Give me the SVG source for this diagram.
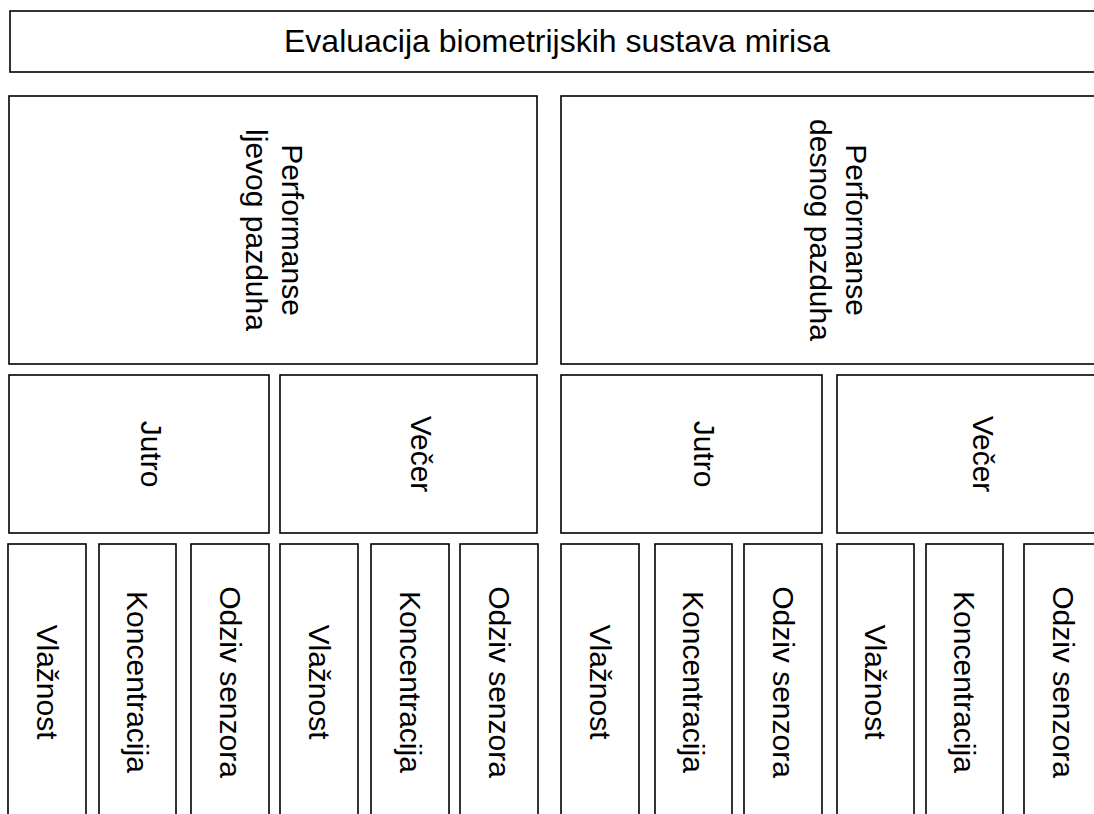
<svg xmlns="http://www.w3.org/2000/svg" width="1094" height="814" viewBox="0 0 1094 814">
<style>
rect{fill:#fff;stroke:#000;stroke-width:1.6}
text{font-family:"Liberation Sans",Arial,sans-serif;font-size:30px;fill:#000;text-anchor:middle}
.t{font-size:32px}
</style>
<rect x="0" y="0" width="1094" height="814" style="stroke:none"/>
<g id="title"><rect x="10" y="11" width="1094" height="61"/><text class="t" x="557" y="52">Evaluacija biometrijskih sustava mirisa</text></g>
<g id="perf-left"><rect x="9" y="96" width="528" height="268"/>
<text transform="translate(282,230) rotate(90)">Performanse</text>
<text transform="translate(246,230) rotate(90)">ljevog pazduha</text></g>
<g id="perf-right"><rect x="561" y="96" width="549" height="268"/>
<text transform="translate(846,230) rotate(90)">Performanse</text>
<text transform="translate(810,230) rotate(90)">desnog pazduha</text></g>
<g id="l-jutro"><rect x="9" y="375" width="260" height="158"/><text transform="translate(141,454) rotate(90)">Jutro</text></g>
<g id="l-vecer"><rect x="280" y="375" width="257" height="158"/><text transform="translate(411,454) rotate(90)">Večer</text></g>
<g id="r-jutro"><rect x="561" y="375" width="261" height="158"/><text transform="translate(694,454) rotate(90)">Jutro</text></g>
<g id="r-vecer"><rect x="837" y="375" width="273" height="158"/><text transform="translate(973,454) rotate(90)">Večer</text></g>
<g id="l-j-vlaz"><rect x="8" y="544" width="78" height="280"/><text transform="translate(36.5,682) rotate(90)">Vlažnost</text></g>
<g id="l-j-konc"><rect x="99" y="544" width="77" height="280"/><text transform="translate(127,682) rotate(90)">Koncentracija</text></g>
<g id="l-j-odz"><rect x="191" y="544" width="78" height="280"/><text transform="translate(219.5,682) rotate(90)">Odziv senzora</text></g>
<g id="l-v-vlaz"><rect x="280" y="544" width="78" height="280"/><text transform="translate(308.5,682) rotate(90)">Vlažnost</text></g>
<g id="l-v-konc"><rect x="371" y="544" width="78" height="280"/><text transform="translate(399.5,682) rotate(90)">Koncentracija</text></g>
<g id="l-v-odz"><rect x="460" y="544" width="78" height="280"/><text transform="translate(488.5,682) rotate(90)">Odziv senzora</text></g>
<g id="r-j-vlaz"><rect x="561" y="544" width="78" height="280"/><text transform="translate(589.5,682) rotate(90)">Vlažnost</text></g>
<g id="r-j-konc"><rect x="655" y="544" width="77" height="280"/><text transform="translate(683,682) rotate(90)">Koncentracija</text></g>
<g id="r-j-odz"><rect x="744" y="544" width="78" height="280"/><text transform="translate(772.5,682) rotate(90)">Odziv senzora</text></g>
<g id="r-v-vlaz"><rect x="837" y="544" width="77" height="280"/><text transform="translate(865,682) rotate(90)">Vlažnost</text></g>
<g id="r-v-konc"><rect x="926" y="544" width="77" height="280"/><text transform="translate(954,682) rotate(90)">Koncentracija</text></g>
<g id="r-v-odz"><rect x="1024" y="544" width="78" height="280"/><text transform="translate(1052.5,682) rotate(90)">Odziv senzora</text></g>
<g id="connectors"/>
</svg>
